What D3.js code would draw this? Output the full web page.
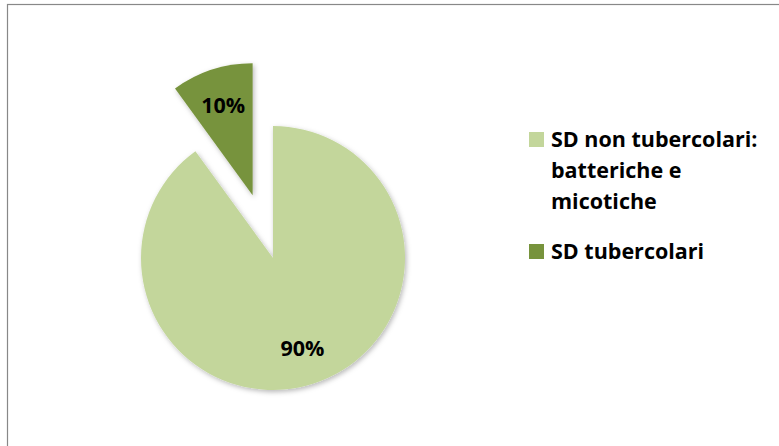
<!DOCTYPE html>
<html>
<head>
<meta charset="utf-8">
<script src="https://cdn.jsdelivr.net/npm/d3@7"></script>
<style>
  body { margin: 0; background: #fff; }
  svg { display: block; font-family: "Open Sans", Lato, sans-serif; }
</style>
</head>
<body>
<div id="chart"></div>
<script>
const width = 779;
const height = 446;

// data
const categories = ["SD non tubercolari: batteriche e micotiche", "SD tubercolari"];
const legendLines = [["SD non tubercolari:", "batteriche e", "micotiche"], ["SD tubercolari"]];
const values = [90, 10];
const colors = ["#c3d69b", "#77933c"];
const exploded = [false, true];

const cx = 273, cy = 258, radius = 132, explodeDist = 66;

const svg = d3.select("#chart").append("svg")
    .attr("width", width)
    .attr("height", height);

const defs = svg.append("defs");
const shadow = defs.append("filter").attr("id", "shadow")
    .attr("x", "-20%").attr("y", "-20%").attr("width", "140%").attr("height", "140%");
shadow.append("feDropShadow")
    .attr("dx", 1.5).attr("dy", 2)
    .attr("stdDeviation", 2.5)
    .attr("flood-color", "#000")
    .attr("flood-opacity", 0.28);

// chart frame
svg.append("rect")
    .attr("x", 7.5).attr("y", 4.5)
    .attr("width", width + 20).attr("height", height + 20)
    .attr("fill", "none")
    .attr("stroke", "#888")
    .attr("stroke-width", 1.2);

const total = d3.sum(values);
const pie = d3.pie().sort(null).value(d => d); // clockwise from 12 o'clock
const arcs = pie(values);

const arc = d3.arc().innerRadius(0).outerRadius(radius);
const labelArc = d3.arc().innerRadius(radius * 0.72).outerRadius(radius * 0.72);

const g = svg.append("g").attr("transform", `translate(${cx},${cy})`);

const slices = g.selectAll("g.slice").data(arcs)
    .join("g")
    .attr("class", "slice")
    .attr("transform", (d, i) => {
        if (!exploded[i]) return null;
        const mid = (d.startAngle + d.endAngle) / 2;
        return `translate(${Math.sin(mid) * explodeDist},${-Math.cos(mid) * explodeDist})`;
    });

slices.append("path")
    .attr("d", arc)
    .attr("fill", (d, i) => colors[i])
    .attr("filter", "url(#shadow)");

slices.append("text")
    .attr("transform", d => `translate(${labelArc.centroid(d)})`)
    .attr("text-anchor", "middle")
    .attr("dy", "0.36em")
    .attr("font-size", 21.5)
    .attr("font-weight", "bold")
    .attr("fill", "#000")
    .text(d => Math.round(d.value / total * 100) + "%");

// legend
const legend = svg.append("g").attr("transform", "translate(529,131)");
const lineH = 31;
let yOff = 0;
legendLines.forEach((lines, i) => {
    const item = legend.append("g").attr("transform", `translate(0,${yOff})`);
    item.append("rect")
        .attr("x", 0).attr("y", 1)
        .attr("width", 15).attr("height", 15)
        .attr("fill", colors[i]);
    const t = item.append("text")
        .attr("x", 22).attr("y", 16)
        .attr("font-size", 21.5)
        .attr("font-weight", "bold")
        .attr("fill", "#000");
    lines.forEach((ln, j) => {
        t.append("tspan").attr("x", 22).attr("dy", j === 0 ? 0 : lineH).text(ln);
    });
    yOff += lines.length * lineH + 19;
});
</script>
</body>
</html>
